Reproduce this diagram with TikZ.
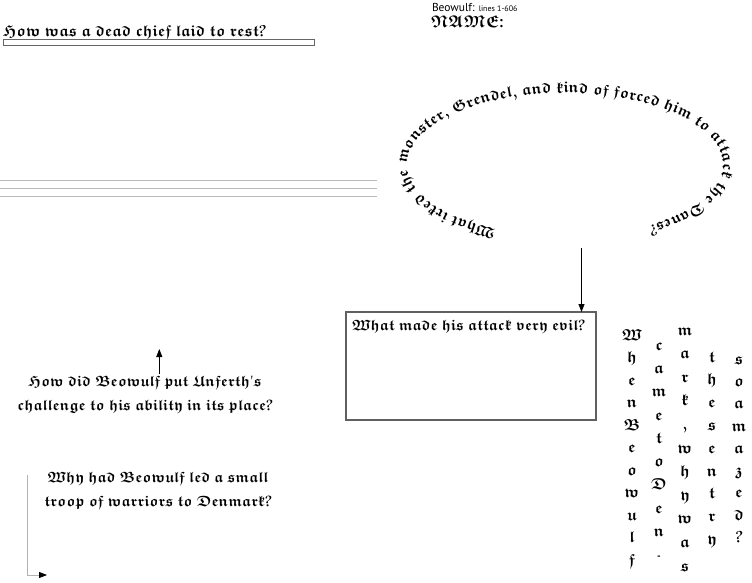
\documentclass[tikz,border=0pt]{standalone}
\usepackage{fontspec}
\newfontfamily\sanf{PT Sans}
\usetikzlibrary{decorations.text,arrows.meta}
\font\fkq=eufb10 at 15pt \fontdimen2\fkq=4.2pt \fontdimen3\fkq=1.5pt \fontdimen4\fkq=1pt
\font\fkb=eufb10 at 15.8pt \fontdimen2\fkb=4.4pt \fontdimen3\fkb=1.5pt \fontdimen4\fkb=1pt
\font\fkn=eufb10 at 17pt
\font\fko=eufb10 at 15.6pt \fontdimen2\fko=3pt \fontdimen3\fko=2pt \fontdimen4\fko=2pt
\font\fkc=eufb10 at 16pt
\tikzset{
  every node/.style={inner sep=0pt,outer sep=0pt},
  gq/.style={font=\fkq},
  gq2/.style={font={\fkq\baselineskip=24pt},align=center,anchor=base},
  gbig/.style={font=\fkb},
  gcol/.style={font=\fkc,anchor=mid},
  arr/.style={line width=0.8pt,-{Triangle[length=8pt,width=6pt]}},
  guide/.style={gray!55,line width=0.8pt}
}
\begin{document}
\begin{tikzpicture}[x=1pt,y=1pt]
\useasboundingbox (0,0) rectangle (752,-582);
% header
\node[anchor=base west,font=\sanf\fontsize{11.5}{12}\selectfont] (title) at (432,-11) {Beowulf: {\fontsize{8}{8}\selectfont lines 1-606}};
\node[font=\fkn,anchor=base west] (name) at (431,-27) {N\kern1pt A\kern1pt M\kern1pt E:};
% top-left question
\node[gbig,anchor=base west] (q1) at (3,-36) {How was a dead chief laid to rest?};
\node[draw=gray!80!black,line width=0.8pt,fill=white,minimum width=311pt,minimum height=6pt,anchor=north west] (q1bar) at (3,-39) {};
% writing lines
\foreach \yy in {180.5,188.5,196.5} \draw[guide] (0,-\yy) -- (377,-\yy);
% oval text
\path[decorate,decoration={text along path,text align={fit to path stretching spaces},
  text={|\fko|What irked the monster, Grendel, and kind of forced him to attack the Danes?}}]
  (565,-165) ++(244:158 and 72) arc[start angle=244,end angle=-58,x radius=158,y radius=72];
% evil box
\node[draw=gray!75!black,line width=1.2pt,minimum width=250pt,minimum height=108pt,anchor=north west] (evil) at (346,-312) {};
\node[gq,anchor=base west] (evilq) at (352,-330.5) {What made his attack very evil?};
\coordinate (ovalbot) at (581.5,-248);
\draw[arr] (ovalbot) -- (ovalbot |- evil.north);
% Unferth question
\node[gq2] (unf) at (145,-410.7) {How did Beowulf put Unferth's\\challenge to his ability in its place?};
\coordinate (uptip) at (159.3,-349);
\draw[arr] (uptip |- unf.north) ++(0,2) -- (uptip);
% troop question
\node[gq2] (troop) at (158,-506.7) {Why had Beowulf led a small\\troop of warriors to Denmark?};
\coordinate (lstart) at (27.3,-475);
\coordinate (lend) at (47,-575);
\draw[gray!60,line width=0.8pt,-{Triangle[black,length=8pt,width=6pt]}] (lstart) |- (lend);
% vertical columns
\foreach \ch [count=\i from 0] in {W,h,e,n,B,e,o,w,u,l,f}
  \node[gcol] (ca\i) at (632,{-338-22.5*\i}) {\ch};
\foreach \ch [count=\i from 0] in {c,a,m,e,t,o,D,e,n,{\sanf\bfseries -}}
  \node[gcol] (cb\i) at (659,{-348-23.3*\i}) {\ch};
\foreach \ch [count=\i from 0] in {m,a,r,k,{,},w,h,y,w,a,s}
  \node[gcol] (cc\i) at (685,{-333-23.6*\i}) {\ch};
\foreach \ch [count=\i from 0] in {t,h,e,s,e,n,t,r,y}
  \node[gcol] (cd\i) at (712,{-360-22.8*\i}) {\ch};
\foreach \ch [count=\i from 0] in {s,o,a,m,a,z,e,d,?}
  \node[gcol] (ce\i) at (739,{-362-22.3*\i}) {\ch};
\end{tikzpicture}
\end{document}
